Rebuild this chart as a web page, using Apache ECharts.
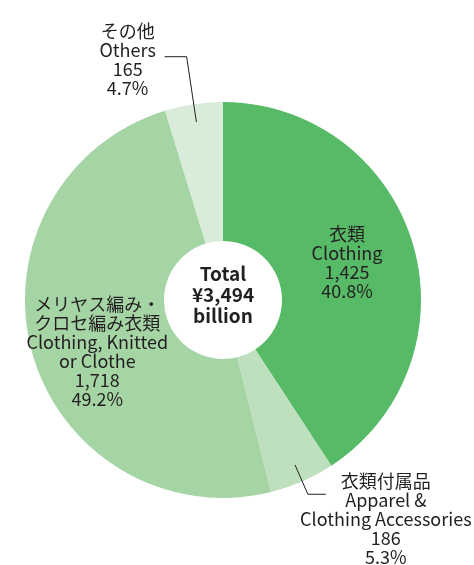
<!DOCTYPE html>
<html>
<head>
<meta charset="utf-8">
<script src="https://cdn.jsdelivr.net/npm/echarts@6/dist/echarts.min.js"></script>
<style>
html, body { margin: 0; padding: 0; background: #fff; }
#main { width: 474px; height: 565px; }
</style>
</head>
<body>
<div id="main"></div>
<script>
// データ（単位：十億円）
var namesJa = ['衣類', '衣類付属品', 'メリヤス編み・\nクロセ編み衣類', 'その他'];
var namesEn = ['Clothing', 'Apparel &\nClothing Accessories', 'Clothing, Knitted\nor Clothe', 'Others'];
var values = [1425, 186, 1718, 165];
var shares = ['40.8%', '5.3%', '49.2%', '4.7%'];
var totalLines = ['Total', '¥3,494', 'billion'];

var colors = ['#56ba67', '#bfe0bf', '#a5d5a4', '#d9ecd9'];
var textColor = '#231f20';
// ラベル位置の微調整（center=既定位置から / end=引出線の端から）
var labelPlace = [
    { from: 'center', d: [-2, 0] },
    { from: 'end', d: [60, 25] },
    { from: 'center', d: [1, 16] },
    { from: 'end', d: [-37, 3] }
];

var myChart = echarts.init(document.getElementById('main'));

function labelText(p) {
    var i = p.dataIndex;
    return namesJa[i] + '\n' + namesEn[i] + '\n' +
        values[i].toLocaleString('en-US') + '\n' + shares[i];
}

function placeLabel(p) {
    var pl = labelPlace[p.dataIndex];
    var out = { align: 'center', verticalAlign: 'middle' };
    var pts = p.labelLinePoints;
    if (pl.from === 'end' && pts) {
        var a = pts[0], b = pts[1], e = pts[pts.length - 1];
        var dx = a[0] - b[0], dy = a[1] - b[1];
        var len = Math.sqrt(dx * dx + dy * dy) || 1;
        out.x = e[0] + pl.d[0];
        out.y = e[1] + pl.d[1];
        // 引出線を扇形の内側から始める
        out.labelLinePoints = [
            [a[0] + dx / len * 18, a[1] + dy / len * 18],
            [b[0], b[1]],
            [e[0], e[1]]
        ];
    } else {
        var r = p.labelRect;
        out.x = r.x + r.width / 2 + pl.d[0];
        out.y = r.y + r.height / 2 + pl.d[1];
    }
    return out;
}

var baseLabel = {
    color: textColor,
    fontFamily: 'Noto Sans CJK JP',
    fontSize: 18,
    lineHeight: 19,
    formatter: labelText
};

// 塗りの円グラフ（内側ラベル）
var fillData = values.map(function (v, i) {
    var inside = labelPlace[i].from === 'center';
    return {
        name: namesEn[i],
        value: v,
        itemStyle: { color: colors[i] },
        label: { show: inside, position: 'inside' }
    };
});

// 透明な重ね円グラフ（引出線付きの外側ラベル、扇形の上に線を描くため）
var lineData = values.map(function (v, i) {
    var outside = labelPlace[i].from === 'end';
    var d = {
        name: namesEn[i],
        value: v,
        label: { show: outside, position: 'outside' },
        labelLine: { show: outside }
    };
    return d;
});
lineData[3].labelLine.length = 48;
lineData[3].labelLine.length2 = 22;

var option = {
    backgroundColor: '#fff',
    animation: false,
    graphic: [{
        type: 'text',
        x: 223,
        y: 295,
        silent: true,
        style: {
            text: totalLines.join('\n'),
            align: 'center',
            verticalAlign: 'middle',
            fontFamily: 'Noto Sans CJK JP',
            fontSize: 19,
            fontWeight: 'bold',
            lineHeight: 21,
            fill: textColor
        }
    }],
    series: [{
        type: 'pie',
        z: 2,
        radius: [59, 198],
        center: [223, 300],
        startAngle: 90,
        clockwise: true,
        avoidLabelOverlap: false,
        silent: true,
        emphasis: { disabled: true },
        label: baseLabel,
        labelLine: { show: false },
        labelLayout: placeLabel,
        data: fillData
    }, {
        type: 'pie',
        z: 3,
        radius: [59, 198],
        center: [223, 300],
        startAngle: 90,
        clockwise: true,
        avoidLabelOverlap: false,
        silent: true,
        emphasis: { disabled: true },
        itemStyle: { color: 'rgba(0,0,0,0)' },
        label: baseLabel,
        labelLine: {
            length: 14,
            length2: 18,
            lineStyle: { color: textColor, width: 1 }
        },
        labelLayout: placeLabel,
        data: lineData
    }]
};

myChart.setOption(option);
</script>
</body>
</html>
